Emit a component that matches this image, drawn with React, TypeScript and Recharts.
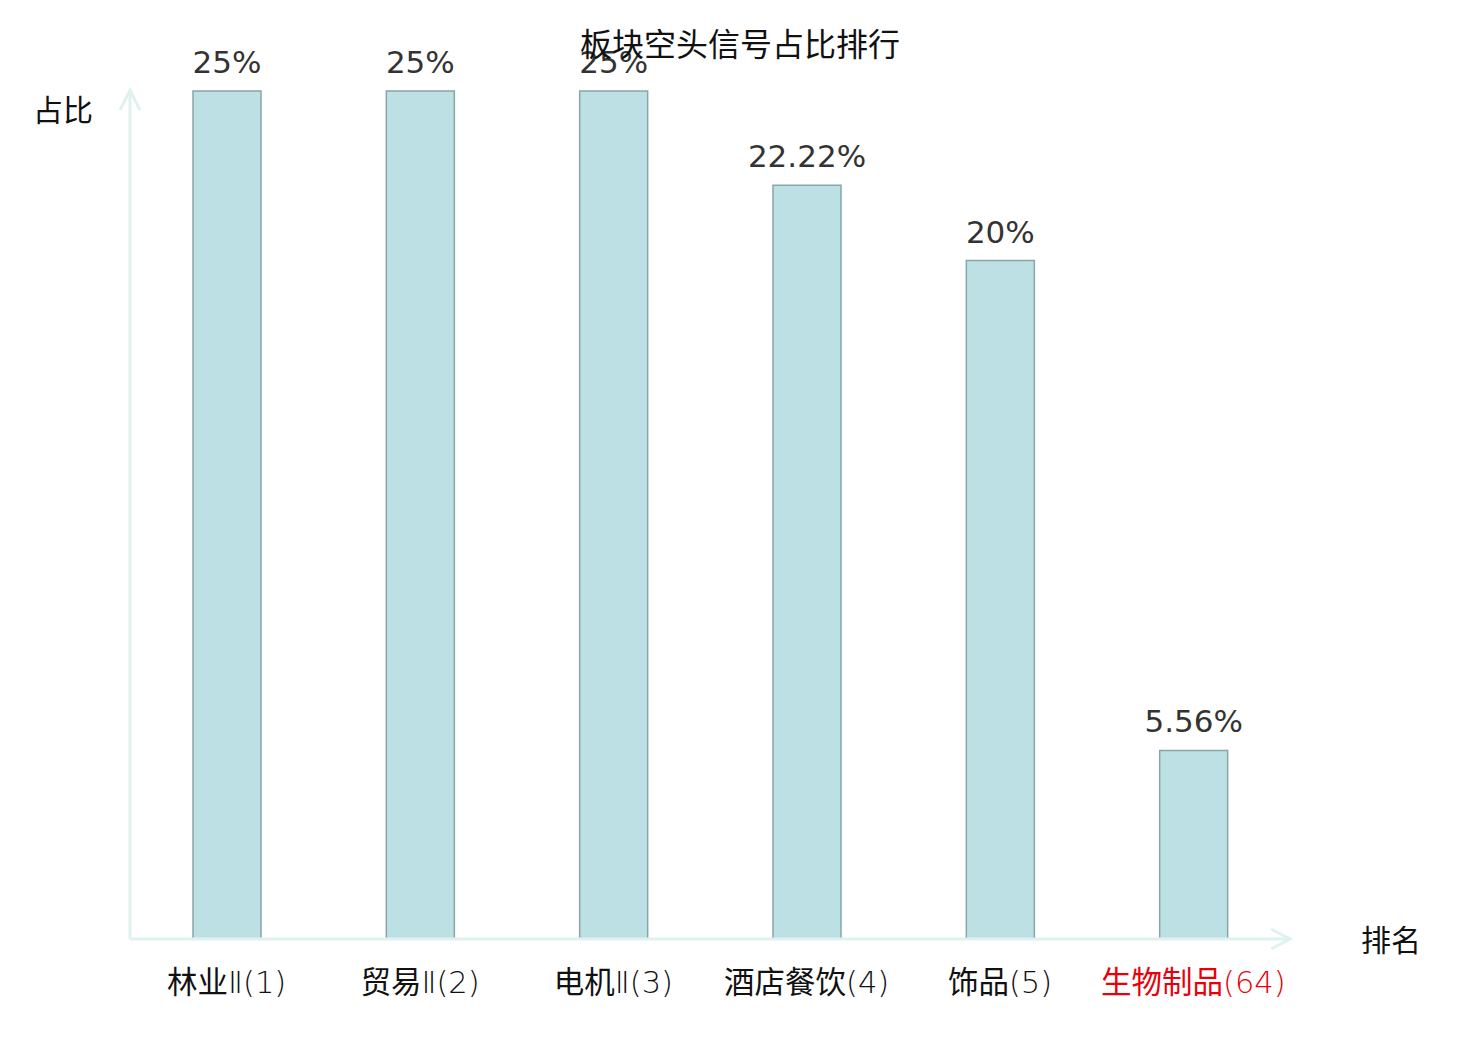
import { BarChart, Bar, XAxis, YAxis, LabelList, Label } from "recharts";

const categories = ["林业Ⅱ(1)", "贸易Ⅱ(2)", "电机Ⅱ(3)", "酒店餐饮(4)", "饰品(5)", "生物制品(64)"];
const shares = [25, 25, 25, 22.22, 20, 5.56];
const highlighted = ["生物制品(64)"];
const yDomain: [number, number] = [0, 25];

const data = categories.map((name, i) => ({ name, share: shares[i] }));

const AXIS = "#dff2ef";
const CJK = "'Noto Sans CJK SC', 'DejaVu Sans', sans-serif";
const LATIN = "'DejaVu Sans', 'Noto Sans CJK SC', sans-serif";

// split a label into runs of CJK ideographs and everything else
function splitRuns(s: string) {
  const runs: { text: string; cjk: boolean }[] = [];
  for (const ch of s) {
    const cjk = /[\u4e00-\u9fff]/.test(ch);
    const last = runs[runs.length - 1];
    if (last && last.cjk === cjk) last.text += ch;
    else runs.push({ text: ch, cjk });
  }
  return runs;
}

function CategoryTick(props: any) {
  const { x, y, payload } = props;
  const red = highlighted.includes(payload.value);
  return (
    <text
      x={x}
      y={y + 46}
      textAnchor="middle"
      fontSize={30.5}
      fill={red ? "#e8000b" : "#111"}
    >
      {splitRuns(payload.value).map((r, i) => (
        <tspan key={i} fontFamily={r.cjk ? CJK : LATIN} fontWeight={r.cjk ? 400 : 200}>
          {r.text}
        </tspan>
      ))}
    </text>
  );
}

function XArrow(props: any) {
  const { x, y, width } = props.viewBox || {};
  const tipX = x + width;
  return (
    <g>
      <polyline
        points={`${tipX - 19},${y - 10} ${tipX},${y} ${tipX - 19},${y + 10}`}
        fill="none"
        stroke={AXIS}
        strokeWidth={3}
      />
      <text x={1391} y={y + 12} textAnchor="middle" fontSize={30} fontFamily={CJK} fill="#111">
        排名
      </text>
    </g>
  );
}

function YArrow(props: any) {
  const { x, y, width } = props.viewBox || {};
  const ax = x + width;
  return (
    <g>
      <polyline
        points={`${ax - 10},${y + 19} ${ax},${y - 1} ${ax + 10},${y + 19}`}
        fill="none"
        stroke={AXIS}
        strokeWidth={3}
      />
      <text x={63} y={y + 30} textAnchor="middle" fontSize={30} fontFamily={CJK} fill="#111">
        占比
      </text>
    </g>
  );
}

export default function App() {
  return (
    <div style={{ position: "absolute", left: 0, top: 0, width: 1480, height: 1040, background: "#fff" }}>
      <div
        style={{
          position: "absolute",
          top: 23,
          left: 0,
          width: 1480,
          textAlign: "center",
          fontFamily: CJK,
          fontSize: 32,
          lineHeight: "38px",
          color: "#111",
          zIndex: 2,
        }}
      >
        板块空头信号占比排行
      </div>
      <BarChart
        width={1480}
        height={1040}
        data={data}
        margin={{ top: 91, right: 190, bottom: 41, left: 129 }}
        barCategoryGap={0}
      >
        <XAxis
          dataKey="name"
          interval={0}
          tickLine={false}
          axisLine={{ stroke: AXIS, strokeWidth: 3 }}
          tick={<CategoryTick />}
          height={60}
        >
          <Label content={<XArrow />} />
        </XAxis>
        <YAxis
          domain={yDomain}
          width={1}
          tick={false}
          tickLine={false}
          axisLine={{ stroke: AXIS, strokeWidth: 3 }}
        >
          <Label content={<YArrow />} />
        </YAxis>
        <Bar dataKey="share" fill="#bce0e3" stroke="#89a5a7" strokeWidth={1.5} barSize={68} isAnimationActive={false}>
          <LabelList
            dataKey="share"
            position="top"
            offset={18}
            formatter={(v: any) => `${v}%`}
            fill="#333"
            fontSize={31}
            fontFamily={LATIN}
          />
        </Bar>
      </BarChart>
    </div>
  );
}
